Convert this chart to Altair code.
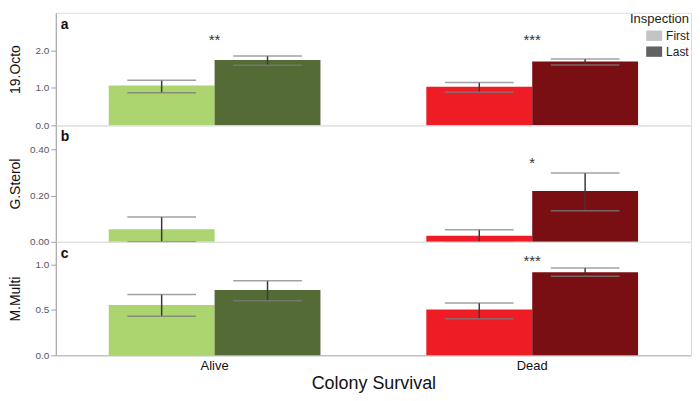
import altair as alt
import pandas as pd

FONT = "Liberation Sans"

survival = ["Alive", "Alive", "Dead", "Dead"]
inspection = ["First", "Last", "First", "Last"]
groups = ["Alive First", "Alive Last", "Dead First", "Dead Last"]
group_colors = ["#acd46f", "#556b36", "#ee1d25", "#7a0f13"]
legend_levels = ["First", "Last"]
legend_colors = ["#c4c4c4", "#626262"]

octo_mean = [1.06, 1.74, 1.03, 1.70]
octo_lo = [0.87, 1.60, 0.88, 1.61]
octo_hi = [1.20, 1.85, 1.14, 1.77]

sterol_mean = [0.055, None, 0.026, 0.22]
sterol_lo = [0.0, None, 0.0, 0.135]
sterol_hi = [0.108, None, 0.052, 0.298]

multi_mean = [0.554, 0.72, 0.504, 0.915]
multi_lo = [0.43, 0.60, 0.404, 0.87]
multi_hi = [0.67, 0.82, 0.576, 0.962]

octo_star_x = ["Alive", "Dead"]
octo_star_text = ["**", "***"]
octo_star_y = [2.14, 2.14]

sterol_star_x = ["Dead"]
sterol_star_text = ["*"]
sterol_star_y = [0.32]

multi_star_x = ["Dead"]
multi_star_text = ["***"]
multi_star_y = [0.98]

x_scale = alt.Scale(domain=["Alive", "Dead"], paddingInner=1/3, paddingOuter=1/6)
xo_scale = alt.Scale(domain=["First", "Last"], paddingInner=0, paddingOuter=0)
color_scale = alt.Scale(domain=groups, range=group_colors)

W = 638


def panel(letter, title, mean, lo, hi, sx, stext, sy, domain, ticks, minor, fmt,
          height, bottom=False, legend=False):
    df = pd.DataFrame({"Survival": survival, "Inspection": inspection,
                       "Group": groups, "mean": mean, "lo": lo, "hi": hi})
    sdf = pd.DataFrame({"Survival": sx, "text": stext, "y": sy})
    if bottom:
        xaxis = alt.Axis(title="Colony Survival", labelAngle=0, ticks=False, tickSize=0,
                         labelFontSize=13, labelColor="#111", labelPadding=4,
                         titleFontSize=18, titleFontWeight="normal", titleColor="#111",
                         titlePadding=2, domainColor="#b0b0b0", labelFont=FONT, titleFont=FONT)
    else:
        xaxis = None
    yaxis = alt.Axis(
        title=title, values=ticks,
        labelExpr=f"round(datum.value/{minor}) % 2 == 0 ? format(datum.value, '{fmt}') : ''",
        grid=False, tickSize=5, labelPadding=2, labelFontSize=10, labelColor="#55566a",
        labelFont=FONT, titleFont=FONT, titleFontSize=14, titleFontWeight="normal",
        titleColor="#111", titleX=-36, titleBaseline="alphabetic", titleAngle=-90,
        domainColor="#a0a0a0", tickColor="#a0a0a0")
    y_scale = alt.Scale(domain=domain, nice=False, zero=True)

    base = alt.Chart(df)
    x = alt.X("Survival:N", scale=x_scale, axis=xaxis)
    xo = alt.XOffset("Inspection:N", scale=xo_scale)

    bars = base.transform_filter("isValid(datum.mean)").mark_bar().encode(
        x=x, xOffset=xo,
        y=alt.Y("mean:Q", scale=y_scale, axis=yaxis),
        color=alt.Color("Group:N", scale=color_scale, legend=None))
    valid = base.transform_filter("isValid(datum.lo)")
    vline = valid.mark_rule(color="#3a3a3a", strokeWidth=1.5).encode(
        x=x, xOffset=xo, y="lo:Q", y2="hi:Q")
    cap_hi = valid.mark_tick(color="#7a7a7a", size=69, thickness=1.5).encode(
        x=x, xOffset=xo, y="hi:Q")
    cap_lo = valid.mark_tick(color="#7a7a7a", size=69, thickness=1.5, opacity=0.8).encode(
        x=x, xOffset=xo, y="lo:Q")
    stars = alt.Chart(sdf).mark_text(font=FONT, fontSize=15, color="#333",
                                     baseline="alphabetic").encode(
        x=alt.X("Survival:N", scale=x_scale), y="y:Q", text="text:N")
    lab = alt.Chart(pd.DataFrame({"t": [letter]})).mark_text(
        font=FONT, fontSize=14, fontWeight="bold", color="#111", align="left",
        baseline="alphabetic").encode(x=alt.value(5), y=alt.value(16), text="t:N")
    layers = [bars, vline, cap_lo, cap_hi, stars, lab]
    if legend:
        ldf = pd.DataFrame({"Inspection": legend_levels})
        leg = alt.Chart(ldf).mark_square(opacity=0).encode(
            x=alt.value(0), y=alt.value(0),
            fill=alt.Fill("Inspection:N",
                          scale=alt.Scale(domain=legend_levels, range=legend_colors),
                          legend=alt.Legend(
                              title="Inspection", orient="none", legendX=577, legendY=0,
                              titleAnchor="end", titleFontSize=13, titleFontWeight="normal",
                              titleFont=FONT, titleColor="#222", titlePadding=2,
                              labelFont=FONT, labelFontSize=12, labelColor="#222",
                              symbolType="M-1,-0.65H1V0.65H-1Z", symbolSize=256,
                              symbolOpacity=1, symbolStrokeWidth=0, symbolOffset=12,
                              rowPadding=2, labelOffset=4, padding=0)))
        layers.append(leg)
    return alt.layer(*layers).properties(width=W, height=height)


pa = panel("a", "19.Octo", octo_mean, octo_lo, octo_hi, octo_star_x, octo_star_text,
           octo_star_y, [0, 3], [0, 0.5, 1, 1.5, 2, 2.5], 0.5, ".1f", 113, legend=True)
pb = panel("b", "G.Sterol", sterol_mean, sterol_lo, sterol_hi, sterol_star_x,
           sterol_star_text, sterol_star_y, [0, 0.505], [0, 0.1, 0.2, 0.3, 0.4], 0.1,
           ".2f", 117)
pc = panel("c", "M.Multi", multi_mean, multi_lo, multi_hi, multi_star_x, multi_star_text,
           multi_star_y, [0, 1.25], [0, 0.25, 0.5, 0.75, 1.0], 0.25, ".1f", 114,
           bottom=True)

chart = alt.vconcat(pa, pb, pc, spacing=0, bounds="flush").properties(
    padding={"left": 0, "top": 0, "right": 0, "bottom": 0}
).configure_view(stroke="#d8d8d8").configure(font=FONT, background="white")

chart.save("out.html", embed_options={"renderer": "svg", "actions": False})
